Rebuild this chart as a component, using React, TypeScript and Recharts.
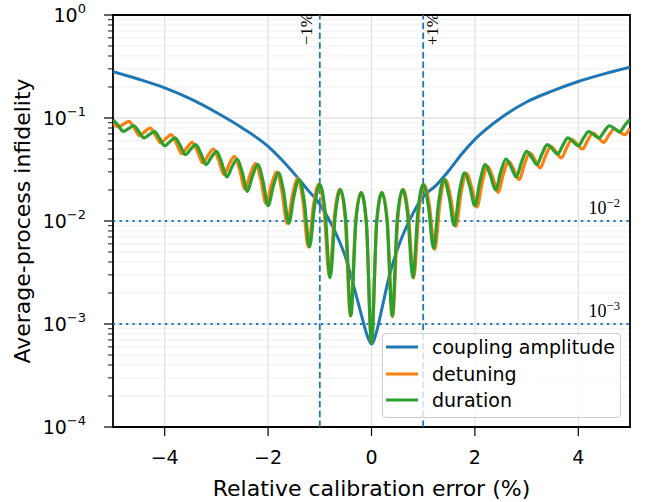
import React from 'react';
import { LineChart, Line, XAxis, YAxis, CartesianGrid, ReferenceLine, ReferenceArea, Legend } from 'recharts';

const SANS = '"DejaVu Sans", Verdana, sans-serif';
const SERIF = '"Liberation Serif", "DejaVu Serif", serif';

const BLUE = '#1f77b4';
const ORANGE = '#ff7f0e';
const GREEN = '#2ca02c';

const PLOT_LEFT = 113;
const Y_LABEL_X = 30;

// axis ticks
const xTicks = [-4, -2, 0, 2, 4];
const yMajor = [1e-4, 1e-3, 1e-2, 1e-1, 1];
const yExpLabels = ['\u22124', '\u22123', '\u22122', '\u22121', '0'];
const yMinor = [
  2e-4, 3e-4, 4e-4, 5e-4, 6e-4, 7e-4, 8e-4, 9e-4,
  2e-3, 3e-3, 4e-3, 5e-3, 6e-3, 7e-3, 8e-3, 9e-3,
  0.02, 0.03, 0.04, 0.05, 0.06, 0.07, 0.08, 0.09,
  0.2, 0.3, 0.4, 0.5, 0.6, 0.7, 0.8, 0.9,
];
const yAll = [...yMajor, ...yMinor].sort((a, b) => a - b);

// annotation lines
const markX = [-1, 1];
const markXLabels = ['\u22121%', '+1%'];
const markY = [1e-2, 1e-3];
const markYExp = ['\u22122', '\u22123'];

// coupling amplitude error
const couplingX = [
  -5, -4.5, -4, -3.5, -3, -2.5, -2, -1.75, -1.5, -1.25, -1, -0.75, -0.5, -0.35, -0.2, -0.1, 0,
  0.1, 0.2, 0.35, 0.5, 0.75, 1, 1.25, 1.5, 1.75, 2, 2.5, 3, 3.5, 4, 4.5, 5,
];
const couplingV = [
  0.282, 0.238, 0.196, 0.153, 0.113, 0.08, 0.053, 0.04, 0.029, 0.0205, 0.0145, 0.0088, 0.0044, 0.0024, 0.00125, 0.00082, 0.00064,
  0.00085, 0.0014, 0.003, 0.0053, 0.0105, 0.0172, 0.0222, 0.031, 0.045, 0.062, 0.1, 0.143, 0.183, 0.226, 0.268, 0.311,
];

// detuning error
const detuningX = [
  -4.998, -4.896, -4.794, -4.692, -4.59, -4.488, -4.386, -4.284, -4.182, -4.08,
  -3.978, -3.876, -3.774, -3.672, -3.57, -3.468, -3.366, -3.264, -3.162, -3.06,
  -2.958, -2.856, -2.754, -2.652, -2.55, -2.448, -2.346, -2.244, -2.142, -2.04,
  -1.938, -1.836, -1.734, -1.632, -1.53, -1.428, -1.326, -1.224, -1.122, -1.02,
  -0.918, -0.816, -0.714, -0.612, -0.51, -0.408, -0.306, -0.204, -0.102, 0,
  0.102, 0.204, 0.306, 0.408, 0.51, 0.612, 0.714, 0.816, 0.918, 1.02,
  1.122, 1.224, 1.326, 1.428, 1.53, 1.632, 1.734, 1.836, 1.938, 2.04,
  2.142, 2.244, 2.346, 2.448, 2.55, 2.652, 2.754, 2.856, 2.958, 3.06,
  3.162, 3.264, 3.366, 3.468, 3.57, 3.672, 3.774, 3.876, 3.978, 4.08,
  4.182, 4.284, 4.386, 4.488, 4.59, 4.692, 4.794, 4.896, 4.998,
];
const detuningV = [
  0.088, 0.082, 0.0873, 0.0926, 0.08, 0.0673, 0.0737, 0.08, 0.0686, 0.0572,
  0.0631, 0.0689, 0.057, 0.045, 0.0515, 0.058, 0.0473, 0.0366, 0.0433, 0.05,
  0.0391, 0.0282, 0.0354, 0.0425, 0.0315, 0.0205, 0.0283, 0.036, 0.0254, 0.0148,
  0.0223, 0.0298, 0.0197, 0.0095, 0.0177, 0.0258, 0.0157, 0.0056, 0.0142, 0.0228,
  0.0128, 0.0029, 0.0116, 0.0203, 0.0107, 0.0012, 0.0101, 0.0189, 0.0098, 0.000665,
  0.0098, 0.0189, 0.0101, 0.00118, 0.0107, 0.0202, 0.0115, 0.0028, 0.0127, 0.0225,
  0.0139, 0.0053, 0.0153, 0.0253, 0.0171, 0.0089, 0.019, 0.029, 0.0213, 0.0137,
  0.0238, 0.034, 0.0265, 0.019, 0.0285, 0.0379, 0.0315, 0.0252, 0.0355, 0.0458,
  0.0393, 0.0328, 0.0429, 0.053, 0.047, 0.041, 0.0513, 0.0616, 0.0558, 0.05,
  0.0607, 0.0715, 0.0647, 0.058, 0.0681, 0.0782, 0.0735, 0.0689, 0.079,
];

// duration error
const durationX = [
  -5, -4.9, -4.8, -4.7, -4.6, -4.5, -4.4, -4.3, -4.2, -4.1,
  -4, -3.9, -3.8, -3.7, -3.6, -3.5, -3.4, -3.3, -3.2, -3.1,
  -3, -2.9, -2.8, -2.7, -2.6, -2.5, -2.4, -2.3, -2.2, -2.1,
  -2, -1.9, -1.8, -1.7, -1.6, -1.5, -1.4, -1.3, -1.2, -1.1,
  -1, -0.9, -0.8, -0.7, -0.6, -0.5, -0.4, -0.3, -0.2, -0.1,
  0,
  0.1, 0.2, 0.3, 0.4, 0.5, 0.6, 0.7, 0.8, 0.9, 1,
  1.1, 1.2, 1.3, 1.4, 1.5, 1.6, 1.7, 1.8, 1.9, 2,
  2.1, 2.2, 2.3, 2.4, 2.5, 2.6, 2.7, 2.8, 2.9, 3,
  3.1, 3.2, 3.3, 3.4, 3.5, 3.6, 3.7, 3.8, 3.9, 4,
  4.1, 4.2, 4.3, 4.4, 4.5, 4.6, 4.7, 4.8, 4.9, 5,
];
const durationV = [
  0.096, 0.085, 0.074, 0.079, 0.0841, 0.074, 0.064, 0.0688, 0.0736, 0.0637,
  0.0538, 0.0589, 0.064, 0.054, 0.044, 0.0496, 0.0551, 0.0452, 0.0353, 0.0414,
  0.0474, 0.0371, 0.0268, 0.0334, 0.04, 0.0297, 0.0194, 0.0276, 0.0353, 0.0247,
  0.0141, 0.0217, 0.0293, 0.0194, 0.0095, 0.0174, 0.0254, 0.0155, 0.0056, 0.0141,
  0.0226, 0.0127, 0.00282, 0.0115, 0.0202, 0.0107, 0.0012, 0.0101, 0.0189, 0.0098,
  0.000665,
  0.0098, 0.0189, 0.0101, 0.0012, 0.0107, 0.0202, 0.0115, 0.00282, 0.0127, 0.0226,
  0.014, 0.00544, 0.0154, 0.0254, 0.0172, 0.00904, 0.0192, 0.0293, 0.0217, 0.0141,
  0.0247, 0.0353, 0.0277, 0.02, 0.03, 0.04, 0.0334, 0.0268, 0.0371, 0.0474,
  0.0414, 0.0353, 0.0452, 0.0551, 0.0499, 0.0446, 0.0543, 0.064, 0.0589, 0.0538,
  0.0637, 0.0736, 0.0688, 0.064, 0.074, 0.0841, 0.0789, 0.0736, 0.0852, 0.0968,
];

const toRows = (xs: number[], vs: number[]) => xs.map((x, i) => ({ x, v: vs[i] }));
const couplingData = toRows(couplingX, couplingV);
const detuningData = toRows(detuningX, detuningV);
const durationData = toRows(durationX, durationV);

const fmtX = (v: number) => (v < 0 ? '\u2212' + Math.abs(v) : String(v));

const XTick = (props: any) => {
  const { x, y, payload } = props;
  return (
    <g>
      <line x1={x} x2={x} y1={y} y2={y + 9} stroke="#000" strokeWidth={1.2} />
      <text x={x} y={y + 37} textAnchor="middle" fontFamily={SANS} fontSize={19} fill="#000">
        {fmtX(payload.value)}
      </text>
    </g>
  );
};

const YTick = (props: any) => {
  const { y, payload } = props;
  const x = PLOT_LEFT;
  const i = yMajor.indexOf(payload.value);
  const major = i >= 0;
  return (
    <g>
      <line x1={x - (major ? 9 : 5)} x2={x} y1={y} y2={y} stroke="#000" strokeWidth={major ? 1.2 : 0.9} />
      {major && (
        <text x={x - 27} y={y + 7} textAnchor="end" fontFamily={SANS} fontSize={19} fill="#000">
          10
          <tspan dy={-9} fontSize={13}>{yExpLabels[i]}</tspan>
        </text>
      )}
    </g>
  );
};

const XLabel = (props: any) => {
  const vb = props.viewBox;
  return (
    <text x={vb.x + vb.width / 2} y={vb.y + 69} textAnchor="middle" fontFamily={SANS} fontSize={22} fill="#000">
      Relative calibration error (%)
    </text>
  );
};

const YLabel = (props: any) => {
  const vb = props.viewBox;
  return (
    <text
      transform={`translate(${Y_LABEL_X}, ${vb.y + vb.height / 2}) rotate(-90)`}
      textAnchor="middle"
      fontFamily={SANS}
      fontSize={22}
      fill="#000"
    >
      Average-process infidelity
    </text>
  );
};

const renderLegend = (props: any) => {
  const payload = props.payload || [];
  return (
    <div
      style={{
        boxSizing: 'border-box',
        width: 239,
        height: 85,
        border: '1.3px solid #cccccc',
        borderRadius: 4,
        background: 'rgba(255,255,255,0.8)',
        fontFamily: SANS,
        fontSize: 19,
        color: '#000',
      }}
    >
      {payload.map((p: any, i: number) => (
        <div key={i} style={{ display: 'flex', alignItems: 'center', height: 26.6, lineHeight: '26.6px' }}>
          <svg width={32} height={6} style={{ marginLeft: 3, marginRight: 14 }}>
            <line x1={0} x2={32} y1={3} y2={3} stroke={p.color} strokeWidth={3} />
          </svg>
          <span>{p.value}</span>
        </div>
      ))}
    </div>
  );
};

export default function App() {
  return (
    <div style={{ position: 'absolute', left: 0, top: 0, background: '#fff' }}>
      <LineChart width={655} height={502} margin={{ top: 15, right: 25, bottom: 0, left: 0 }}>
        <XAxis
          dataKey="x"
          type="number"
          domain={[-5, 5]}
          allowDataOverflow
          ticks={xTicks}
          interval={0}
          axisLine={false}
          tickLine={false}
          tickSize={0}
          tickMargin={0}
          height={75}
          tick={<XTick />}
          label={(p: any) => <XLabel {...p} />}
        />
        <YAxis
          yAxisId="y"
          type="number"
          scale="log"
          domain={[1e-4, 1]}
          allowDataOverflow
          ticks={yAll}
          interval={0}
          axisLine={false}
          tickLine={false}
          tickSize={0}
          tickMargin={0}
          width={113}
          tick={<YTick />}
          label={(p: any) => <YLabel {...p} />}
        />
        <YAxis yAxisId="major" type="number" scale="log" domain={[1e-4, 1]} allowDataOverflow ticks={yMajor} hide />
        <CartesianGrid yAxisId="y" vertical={false} stroke="#f0f0f0" strokeWidth={1} />
        <CartesianGrid yAxisId="major" stroke="#dedede" strokeWidth={1.1} />
        {markY.map((v, i) => (
          <ReferenceLine
            key={'h' + i}
            yAxisId="y"
            y={v}
            stroke={BLUE}
            strokeWidth={2}
            strokeDasharray="2.2 4.3"
            label={(p: any) => (
              <text
                x={p.viewBox.x + p.viewBox.width - 10}
                y={p.viewBox.y - 7}
                textAnchor="end"
                fontFamily={SERIF}
                fontSize={18}
                fill="#000"
              >
                10
                <tspan dy={-7} fontSize={12.6}>{markYExp[i]}</tspan>
              </text>
            )}
          />
        ))}
        {markX.map((v, i) => (
          <ReferenceLine
            key={'v' + i}
            yAxisId="y"
            x={v}
            stroke={BLUE}
            strokeWidth={1.8}
            strokeDasharray="6.5 3.2"
            label={(p: any) => (
              <text
                transform={`translate(${p.viewBox.x + (i === 0 ? -8 : 15)}, 13) rotate(-90)`}
                textAnchor="end"
                fontFamily={SERIF}
                fontSize={17}
                fill="#000"
              >
                {markXLabels[i]}
              </text>
            )}
          />
        ))}
        <Line
          yAxisId="y"
          data={couplingData}
          dataKey="v"
          name="coupling amplitude"
          type="monotone"
          stroke={BLUE}
          strokeWidth={3}
          dot={false}
          isAnimationActive={false}
        />
        <Line
          yAxisId="y"
          data={detuningData}
          dataKey="v"
          name="detuning"
          type="monotone"
          stroke={ORANGE}
          strokeWidth={3.2}
          dot={false}
          isAnimationActive={false}
        />
        <Line
          yAxisId="y"
          data={durationData}
          dataKey="v"
          name="duration"
          type="monotone"
          stroke={GREEN}
          strokeWidth={3.2}
          dot={false}
          isAnimationActive={false}
        />
        <ReferenceArea
          yAxisId="y"
          x1={-5}
          x2={5}
          y1={1e-4}
          y2={1}
          fill="none"
          fillOpacity={0}
          stroke="#000"
          strokeWidth={1.8}
        />
        <Legend
          layout="horizontal"
          verticalAlign="middle"
          align="center"
          wrapperStyle={{ left: 382, top: 333, width: 239, height: 85 }}
          content={renderLegend}
        />
      </LineChart>
    </div>
  );
}
